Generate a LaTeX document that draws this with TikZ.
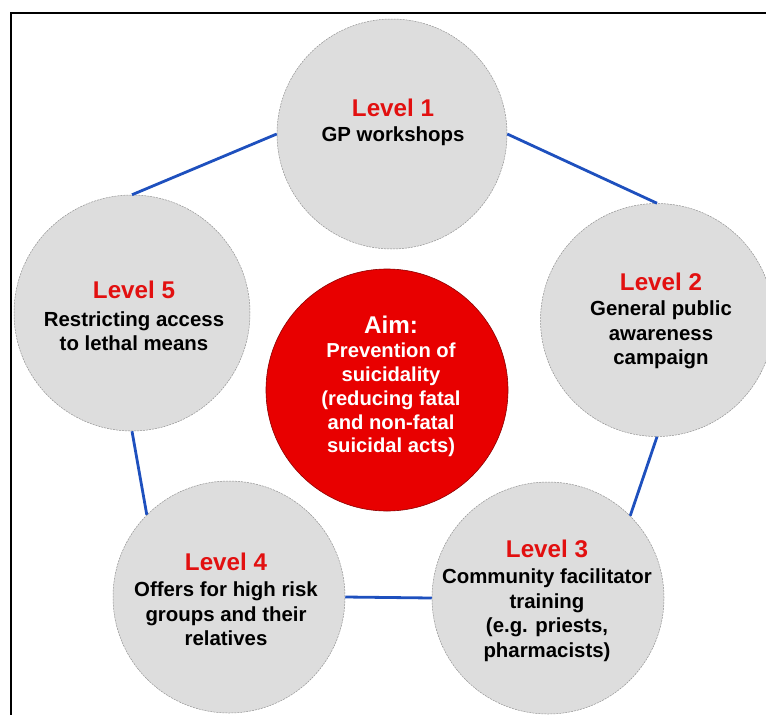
\documentclass[tikz,border=0pt]{standalone}
\usepackage{fontspec}
\setmainfont{Liberation Sans}
\definecolor{lvlgray}{RGB}{221,221,221}
\definecolor{lvlred}{RGB}{226,16,16}
\definecolor{aimred}{RGB}{232,0,0}
\definecolor{linkblue}{RGB}{30,80,190}
\tikzset{
  lvl/.style={circle, fill=lvlgray, draw=gray!85, line width=0.5pt, dash pattern=on 2pt off 1pt, inner sep=0pt},
  aim/.style={circle, fill=aimred, draw=red!55!black, line width=0.6pt, inner sep=0pt, minimum size=242pt},
  ttl/.style={font=\bfseries\fontsize{24.2}{28}\selectfont, text=lvlred, inner sep=0pt},
  bdy/.style={font=\bfseries\fontsize{20.4}{24.5}\selectfont, align=center, inner sep=0pt},
  link/.style={draw=linkblue, line width=2.8pt},
  frame/.style={line width=2.4pt, draw=black}
}
\begin{document}
\begin{tikzpicture}[x=1pt,y=-1pt]
\useasboundingbox (0,0) rectangle (766,715);
\coordinate (fA) at (11,715);
\coordinate (fB) at (11,13);
\coordinate (fC) at (766,13);
\draw[frame] (fA) -- (fB) -- (fC);

\node[lvl, minimum size=230pt] (c1) at (392,134) {};
\node[lvl, minimum size=233pt] (c2) at (657,320) {};
\node[lvl, minimum size=232pt] (c3) at (548,598) {};
\node[lvl, minimum size=232pt] (c4) at (229,597) {};
\node[lvl, minimum size=236pt] (c5) at (132,313) {};
\node[aim] (c0) at (387,390) {};

\draw[link] (c1.west) -- (c5.north);
\draw[link] (c1.east) -- (c2.north);
\draw[link] (c2.south) -- (c3.north east);
\draw[link] (c3.west) -- (c4.east);
\draw[link] (c4.north west) -- (c5.south);

\node[ttl] (t1) at (393,108) {Level 1};
\node[bdy] (b1) at (393,136) {GP workshops};

\node[ttl] (t2) at (661,282) {Level 2};
\node[bdy] (b2) at (661,335) {General public\\awareness\\campaign};

\node[ttl] (t3) at (547,549) {Level 3};
\node[bdy] (b3) at (547,615) {Community facilitator\\training\\(e.g. priests,\\pharmacists)};

\node[ttl] (t4) at (226,562) {Level 4};
\node[bdy] (b4) at (226,614) {Offers for high risk\\groups and their\\relatives};

\node[ttl] (t5) at (134,290) {Level 5};
\node[bdy] (b5) at (134,331) {Restricting access\\to lethal means};

\node[ttl, text=white] (t0) at (391,325) {Aim:};
\node[bdy, text=white, font=\bfseries\fontsize{20.2}{23.8}\selectfont] (b0) at (391,400) {Prevention of\\suicidality\\(reducing fatal\\and non-fatal\\suicidal acts)};
\end{tikzpicture}
\end{document}
